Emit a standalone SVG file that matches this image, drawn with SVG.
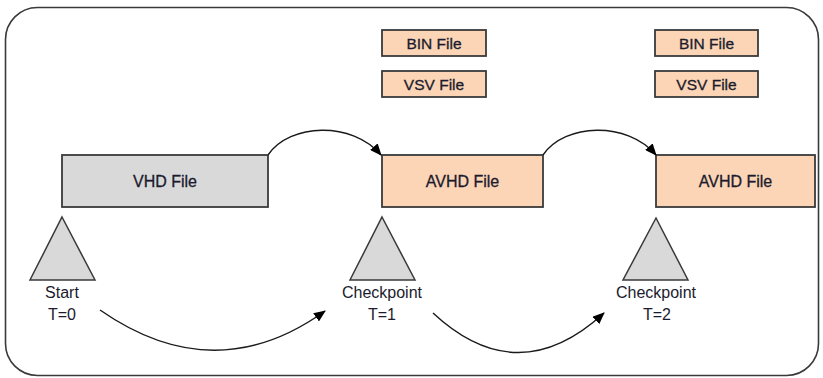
<svg xmlns="http://www.w3.org/2000/svg" width="823" height="378" viewBox="0 0 823 378">
  <style>
    .frame { fill: #ffffff; stroke: #3a3a3a; stroke-width: 1.6; }
    .box { stroke: #3a3a3a; stroke-width: 1.8; }
    .vhd { fill: #d9d9d9; }
    .avhd { fill: #fbd5b5; }
    .tri { fill: #d9d9d9; stroke: #3a3a3a; stroke-width: 1.5; stroke-linejoin: miter; }
    .lbl { font-family: "Liberation Sans", Arial, sans-serif; font-size: 16px; fill: #1b1b2e; text-anchor: middle; }
    .boxlbl { stroke: #1b1b2e; stroke-width: 0.3; }
    .small { font-size: 15.5px; }
    .conn { fill: none; stroke: #1a1a1a; stroke-width: 1.4; marker-end: url(#arrow); }
  </style>
  <defs>
    <marker id="arrow" viewBox="0 0 12 10" refX="11" refY="5" markerWidth="12" markerHeight="10" markerUnits="userSpaceOnUse" orient="auto">
      <path d="M0,0 L12,5 L0,10 Z" fill="#000"/>
    </marker>
  </defs>

  <rect class="frame" x="5.5" y="7.5" width="813" height="368" rx="32" ry="32"/>

  <g id="vhd-file">
    <rect class="box vhd" x="62" y="155" width="206" height="52"/>
    <text class="lbl boxlbl" x="165" y="187">VHD File</text>
  </g>

  <g id="avhd-file-1">
    <rect class="box avhd" x="382" y="155" width="161" height="52"/>
    <text class="lbl boxlbl" x="462.5" y="187">AVHD File</text>
  </g>

  <g id="avhd-file-2">
    <rect class="box avhd" x="656" y="155" width="159" height="52"/>
    <text class="lbl boxlbl" x="735.5" y="187">AVHD File</text>
  </g>

  <g id="bin-file-1">
    <rect class="box avhd" x="382" y="30" width="104" height="26"/>
    <text class="lbl boxlbl small" x="434" y="48.5">BIN File</text>
  </g>

  <g id="vsv-file-1">
    <rect class="box avhd" x="382" y="71" width="104" height="26"/>
    <text class="lbl boxlbl small" x="434" y="89.5">VSV File</text>
  </g>

  <g id="bin-file-2">
    <rect class="box avhd" x="655" y="30" width="103" height="26"/>
    <text class="lbl boxlbl small" x="706.5" y="48.5">BIN File</text>
  </g>

  <g id="vsv-file-2">
    <rect class="box avhd" x="655" y="71" width="103" height="26"/>
    <text class="lbl boxlbl small" x="706.5" y="89.5">VSV File</text>
  </g>

  <g id="start">
    <polygon class="tri" points="62,217 95,280 30,280"/>
    <text class="lbl" x="62" y="298">Start</text>
    <text class="lbl" x="62" y="320">T=0</text>
  </g>

  <g id="checkpoint-1">
    <polygon class="tri" points="382,217 415,280 350,280"/>
    <text class="lbl" x="382" y="298">Checkpoint</text>
    <text class="lbl" x="382" y="320">T=1</text>
  </g>

  <g id="checkpoint-2">
    <polygon class="tri" points="656,218 688,280 623,280"/>
    <text class="lbl" x="656" y="298">Checkpoint</text>
    <text class="lbl" x="657" y="320">T=2</text>
  </g>

  <g id="connectors">
    <path class="conn" d="M268,155 C290,123 352,121 381,155"/>
    <path class="conn" d="M543,155 C565,123 627,121 656,155"/>
    <path class="conn" d="M100,310 Q215,390 325,311"/>
    <path class="conn" d="M433,313 Q518,392 604,313"/>
  </g>
</svg>
